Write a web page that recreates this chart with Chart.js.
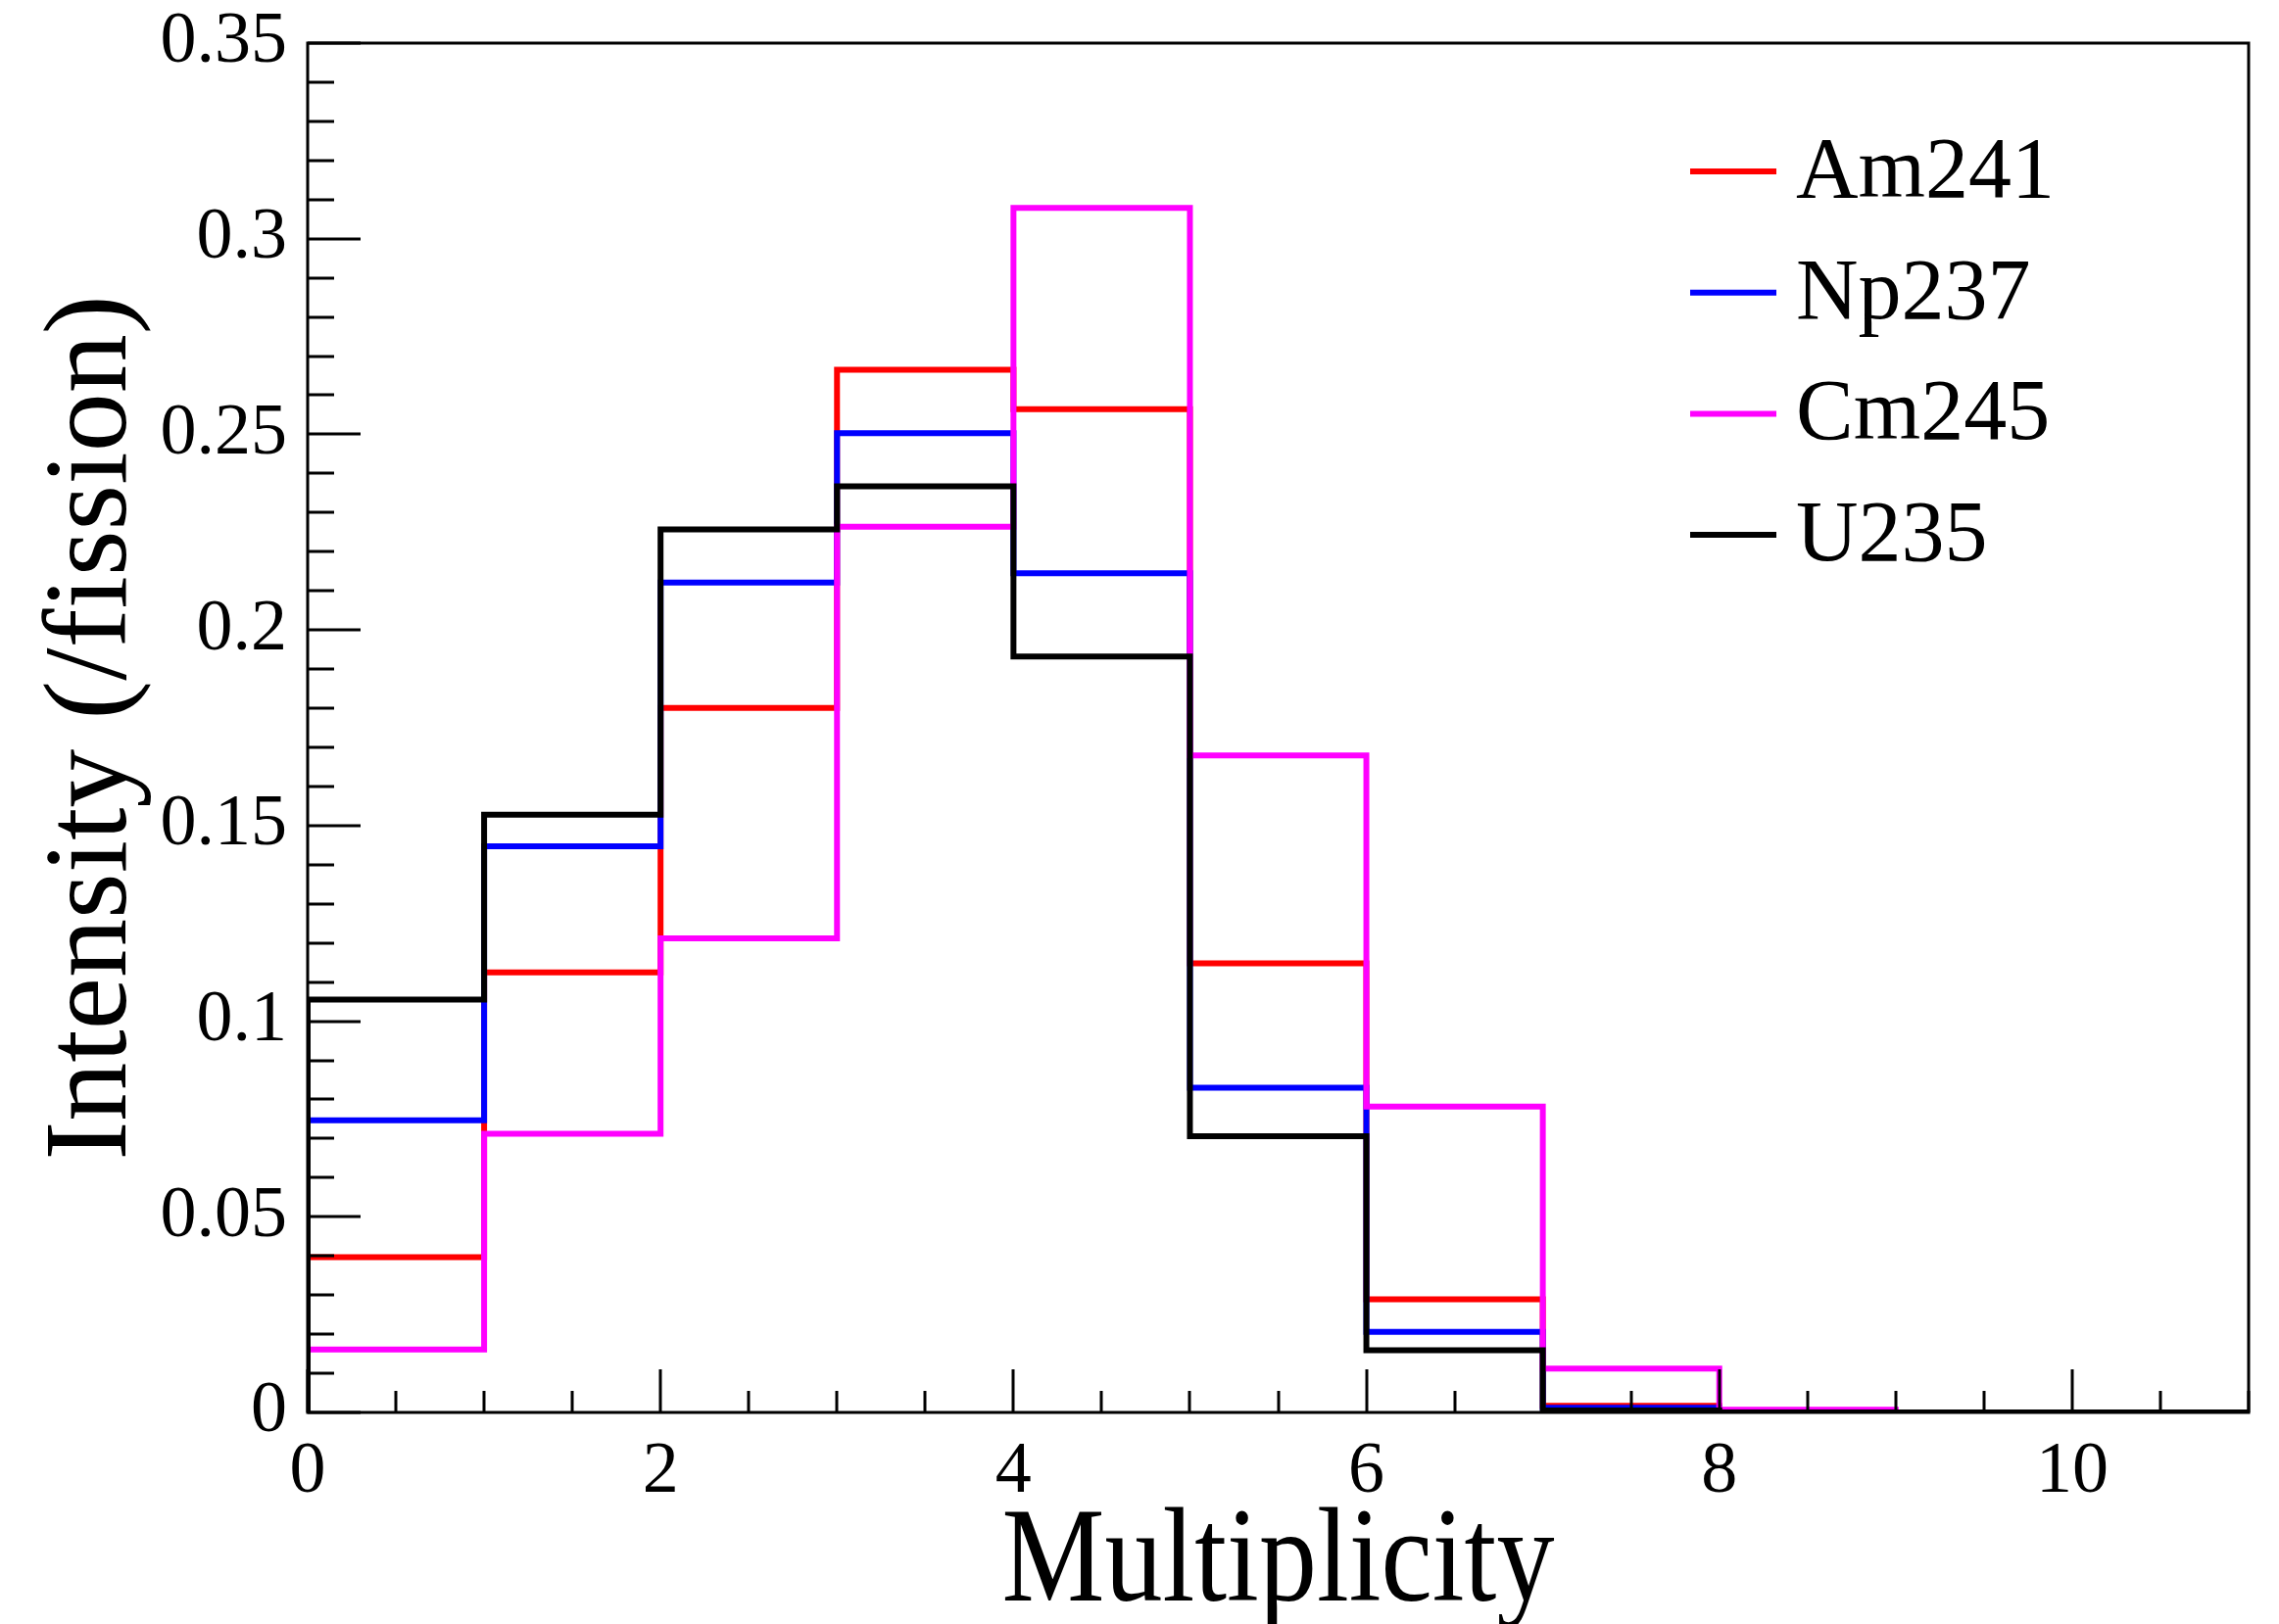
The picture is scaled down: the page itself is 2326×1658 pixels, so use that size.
<!DOCTYPE html>
<html>
<head>
<meta charset="utf-8">
<script src="https://cdn.jsdelivr.net/npm/chart.js@4.4.1/dist/chart.umd.min.js"></script>
<style>
  html, body { margin: 0; padding: 0; background: #fff; }
  #wrap { width: 2326px; height: 1658px; position: relative; }
</style>
</head>
<body>
<div id="wrap"><canvas id="myChart"></canvas></div>
<script>
// multiplicity bins (lower edges), histogram runs from 0 to 11
var multiplicity = [0, 1, 2, 3, 4, 5, 6, 7, 8, 9, 10];
var xMax = 11;

// intensity per fission
var am241 = [0.0397, 0.1125, 0.1801, 0.2665, 0.2564, 0.1148, 0.0289, 0.0017, 0, 0, 0];
var np237 = [0.0747, 0.1447, 0.2121, 0.2503, 0.2145, 0.0830, 0.0206, 0.0012, 0, 0, 0];
var cm245 = [0.0161, 0.0712, 0.1212, 0.2264, 0.3079, 0.1679, 0.0782, 0.0112, 0.0007, 0, 0];
var u235  = [0.1055, 0.1528, 0.2257, 0.2367, 0.1932, 0.0706, 0.0159, 0.0005, 0, 0, 0];

var seriesNames = ['Am241', 'Np237', 'Cm245', 'U235'];
var seriesColors = ['#ff0000', '#0000ff', '#ff00ff', '#000000'];

var xTicks = [0, 2, 4, 6, 8, 10];
var yTicks = [0, 0.05, 0.1, 0.15, 0.2, 0.25, 0.3, 0.35];
var xTitle = 'Multiplicity';
var yTitle = 'Intensity (/fission)';

var FONT = "'Liberation Serif', 'Times New Roman', serif";

// turn bin contents into a step outline
function histPoints(values) {
    var pts = [{x: multiplicity[0], y: 0}];
    for (var i = 0; i < multiplicity.length; i++) {
        pts.push({x: multiplicity[i], y: values[i]});
    }
    pts.push({x: xMax, y: values[values.length - 1]});
    return pts;
}

var allSeries = [am241, np237, cm245, u235];
var datasets = allSeries.map(function (vals, i) {
    return {
        label: seriesNames[i],
        data: histPoints(vals),
        borderColor: seriesColors[i],
        backgroundColor: seriesColors[i],
        borderWidth: 6,
        stepped: 'before',
        pointRadius: 0,
        fill: false,
        borderJoinStyle: 'miter',
        borderCapStyle: 'butt',
        order: allSeries.length - i
    };
});

// ROOT style frame with inward ticks
var frameTicks = {
    id: 'frameTicks',
    afterDatasetsDraw: function (chart) {
        var c = chart.ctx, a = chart.chartArea;
        var xs = chart.scales.x, ys = chart.scales.y;
        c.save();
        c.strokeStyle = '#000';
        c.lineWidth = 3;
        c.beginPath();
        // y ticks every 0.01, major every 0.05
        for (var k = 0; k <= 35; k++) {
            var py = Math.round(ys.getPixelForValue(k / 100));
            var len = (k % 5 === 0) ? 54 : 27;
            c.moveTo(a.left, py);
            c.lineTo(a.left + len, py);
        }
        // x ticks every 0.5, major every 2
        for (var j = 0; j <= 22; j++) {
            var px = Math.round(xs.getPixelForValue(j / 2));
            var l2 = (j % 4 === 0) ? 44 : 22;
            c.moveTo(px, a.bottom);
            c.lineTo(px, a.bottom - l2);
        }
        c.stroke();
        c.strokeRect(a.left, a.top, a.right - a.left, a.bottom - a.top);
        c.restore();
    }
};

// x title, a bit taller than the plain font like in the original
var xTitlePlugin = {
    id: 'xTitlePlugin',
    afterDraw: function (chart) {
        var c = chart.ctx, a = chart.chartArea;
        c.save();
        c.font = '118px ' + FONT;
        c.fillStyle = '#000';
        c.textAlign = 'center';
        c.textBaseline = 'alphabetic';
        c.translate((a.left + a.right) / 2, 1634);
        c.scale(1, 1.17);
        c.fillText(xTitle, 0, 0);
        c.restore();
    }
};

// legend inside the plot, top right
var rootLegend = {
    id: 'rootLegend',
    afterDraw: function (chart) {
        var c = chart.ctx;
        var ds = chart.data.datasets;
        c.save();
        c.font = '88px ' + FONT;
        c.textAlign = 'left';
        c.textBaseline = 'alphabetic';
        for (var i = 0; i < ds.length; i++) {
            var cy = 175 + i * 123.7;
            c.strokeStyle = ds[i].borderColor;
            c.lineWidth = 6;
            c.beginPath();
            c.moveTo(1725, cy);
            c.lineTo(1813, cy);
            c.stroke();
            c.fillStyle = '#000';
            c.fillText(ds[i].label, 1833, cy + 26);
        }
        c.restore();
    }
};

var ctx = document.getElementById('myChart').getContext('2d');
var histChart = new Chart(ctx, {
    type: 'line',
    data: { datasets: datasets },
    options: {
        responsive: true,
        maintainAspectRatio: false,
        animation: false,
        devicePixelRatio: 1,
        layout: { padding: { top: 44, right: 31, left: 0, bottom: 0 } },
        plugins: {
            legend: { display: false },
            tooltip: { enabled: false }
        },
        scales: {
            x: {
                type: 'linear',
                min: 0,
                max: xMax,
                grid: { display: false, drawTicks: false },
                border: { display: false },
                afterFit: function (s) {
                    s.height = 216;
                    s.paddingLeft = 0;
                    s.paddingRight = 0;
                },
                afterBuildTicks: function (s) {
                    s.ticks = xTicks.map(function (v) { return {value: v}; });
                },
                ticks: {
                    padding: 25,
                    color: '#000',
                    maxRotation: 0,
                    autoSkip: false,
                    font: { family: FONT, size: 74, lineHeight: 1 },
                    callback: function (v) { return String(v); }
                },
                title: { display: false, text: xTitle }
            },
            y: {
                min: 0,
                max: 0.35,
                grid: { display: false, drawTicks: false },
                border: { display: false },
                afterFit: function (s) {
                    s.width = 314;
                    s.paddingTop = 0;
                    s.paddingBottom = 0;
                },
                afterBuildTicks: function (s) {
                    s.ticks = yTicks.map(function (v) { return {value: v}; });
                },
                ticks: {
                    padding: 21,
                    color: '#000',
                    autoSkip: false,
                    font: { family: FONT, size: 74, lineHeight: 1 },
                    callback: function (v) { return String(+v.toFixed(2)); }
                },
                title: {
                    display: true,
                    text: yTitle,
                    color: '#000',
                    font: { family: FONT, size: 120, lineHeight: 1 },
                    padding: { top: 36, bottom: 0 }
                }
            }
        }
    },
    plugins: [frameTicks, xTitlePlugin, rootLegend]
});
</script>
</body>
</html>
